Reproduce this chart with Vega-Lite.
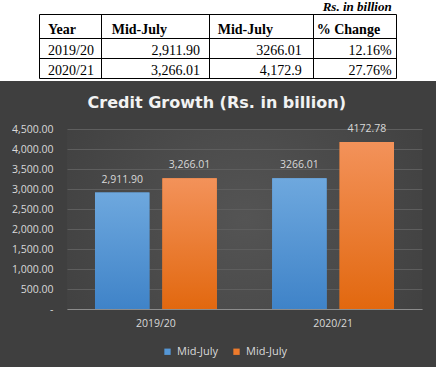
{
  "$schema": "https://vega.github.io/schema/vega-lite/v6.json",
  "background": "#3f3f3f",
  "padding": {"left": 0, "right": 0, "top": 0, "bottom": 10},
  "spacing": 14,
  "config": {"view": {"stroke": null}},
  "datasets": {
    "cells": [
      {"row": 0, "col": 4, "text": "Rs. in billion", "part": "unit"},
      {"row": 1, "col": 1, "text": "Year", "part": "header"},
      {"row": 1, "col": 2, "text": "Mid-July", "part": "header"},
      {"row": 1, "col": 3, "text": "Mid-July", "part": "header"},
      {"row": 1, "col": 4, "text": "% Change", "part": "header"},
      {"row": 2, "col": 1, "text": "2019/20", "part": "year"},
      {"row": 2, "col": 2, "text": "2,911.90", "part": "value"},
      {"row": 2, "col": 3, "text": "3266.01", "part": "value"},
      {"row": 2, "col": 4, "text": "12.16%", "part": "value"},
      {"row": 3, "col": 1, "text": "2020/21", "part": "year"},
      {"row": 3, "col": 2, "text": "3,266.01", "part": "value"},
      {"row": 3, "col": 3, "text": "4,172.9", "part": "value"},
      {"row": 3, "col": 4, "text": "27.76%", "part": "value"}
    ],
    "hlines": [{"line": 0}, {"line": 1}, {"line": 2}, {"line": 3}],
    "vlines": [{"edge": 0}, {"edge": 1}, {"edge": 2}, {"edge": 3}, {"edge": 4}],
    "bars": [
      {"year": "2019/20", "series": "Mid-July (start)", "value": 2911.90, "label": "2,911.90"},
      {"year": "2019/20", "series": "Mid-July (end)", "value": 3266.01, "label": "3,266.01"},
      {"year": "2020/21", "series": "Mid-July (start)", "value": 3266.01, "label": "3266.01"},
      {"year": "2020/21", "series": "Mid-July (end)", "value": 4172.78, "label": "4172.78"}
    ]
  },
  "vconcat": [
    {
      "width": 369,
      "height": 81,
      "resolve": {"scale": {"x": "independent"}},
      "layer": [
        {
          "data": {"values": [{}]},
          "mark": {"type": "rect", "color": "white"},
          "encoding": {
            "x": {"datum": -1, "type": "quantitative", "axis": null,
                  "scale": {"domain": [-1, 0, 1, 2, 3, 4, 5], "range": [-67, -27.5, 34.5, 142.5, 246.5, 329.5, 369], "nice": false, "zero": false}},
            "x2": {"datum": 5}
          }
        },
        {
          "data": {"name": "hlines"},
          "mark": {"type": "rule", "color": "black", "strokeWidth": 1},
          "encoding": {
            "x": {"datum": 0, "type": "quantitative", "axis": null,
                  "scale": {"domain": [-1, 0, 1, 2, 3, 4, 5], "range": [-67, -27.5, 34.5, 142.5, 246.5, 329.5, 369], "nice": false, "zero": false}},
            "x2": {"datum": 4},
            "y": {"field": "line", "type": "quantitative", "axis": null,
                  "scale": {"domain": [0, 1, 2, 3], "range": [14.5, 38.5, 58.5, 78.5], "nice": false, "zero": false}}
          }
        },
        {
          "data": {"name": "vlines"},
          "mark": {"type": "rule", "color": "black", "strokeWidth": 1},
          "encoding": {
            "x": {"field": "edge", "type": "quantitative", "axis": null,
                  "scale": {"domain": [-1, 0, 1, 2, 3, 4, 5], "range": [-67, -27.5, 34.5, 142.5, 246.5, 329.5, 369], "nice": false, "zero": false}},
            "y": {"datum": 0, "type": "quantitative", "axis": null,
                  "scale": {"domain": [0, 1, 2, 3], "range": [14.5, 38.5, 58.5, 78.5], "nice": false, "zero": false}},
            "y2": {"datum": 3}
          }
        },
        {
          "data": {"name": "cells"},
          "transform": [{"filter": "datum.part == 'header'"}],
          "mark": {"type": "text", "align": "left", "baseline": "alphabetic", "dy": -5, "font": "Liberation Serif", "fontSize": 14, "fontWeight": "bold", "color": "black"},
          "encoding": {
            "x": {"field": "col", "type": "quantitative", "axis": null,
                  "scale": {"domain": [1, 2, 3, 4], "range": [-19, 44.7, 150.7, 249.7], "nice": false, "zero": false}},
            "y": {"field": "row", "type": "quantitative", "axis": null,
                  "scale": {"domain": [0, 1, 2, 3], "range": [14.5, 38.5, 58.5, 78.5], "nice": false, "zero": false}},
            "text": {"field": "text"}
          }
        },
        {
          "data": {"name": "cells"},
          "transform": [{"filter": "datum.part == 'year'"}],
          "mark": {"type": "text", "align": "left", "baseline": "alphabetic", "dy": -4, "font": "Liberation Serif", "fontSize": 14, "color": "black"},
          "encoding": {
            "x": {"field": "col", "type": "quantitative", "axis": null,
                  "scale": {"domain": [1, 2, 3, 4], "range": [-19, 44.7, 150.7, 249.7], "nice": false, "zero": false}},
            "y": {"field": "row", "type": "quantitative", "axis": null,
                  "scale": {"domain": [0, 1, 2, 3], "range": [14.5, 38.5, 58.5, 78.5], "nice": false, "zero": false}},
            "text": {"field": "text"}
          }
        },
        {
          "data": {"name": "cells"},
          "transform": [{"filter": "datum.part == 'value'"}],
          "mark": {"type": "text", "align": "right", "baseline": "alphabetic", "dy": -4, "font": "Liberation Serif", "fontSize": 14, "color": "black"},
          "encoding": {
            "x": {"field": "col", "type": "quantitative", "axis": null,
                  "scale": {"domain": [1, 2, 3, 4], "range": [29, 133, 234.7, 324.7], "nice": false, "zero": false}},
            "y": {"field": "row", "type": "quantitative", "axis": null,
                  "scale": {"domain": [0, 1, 2, 3], "range": [14.5, 38.5, 58.5, 78.5], "nice": false, "zero": false}},
            "text": {"field": "text"}
          }
        },
        {
          "data": {"name": "cells"},
          "transform": [{"filter": "datum.part == 'unit'"}],
          "mark": {"type": "text", "align": "right", "baseline": "alphabetic", "dy": -4, "font": "Liberation Serif", "fontSize": 13, "fontWeight": "bold", "fontStyle": "italic", "color": "black"},
          "encoding": {
            "x": {"field": "col", "type": "quantitative", "axis": null,
                  "scale": {"domain": [1, 2, 3, 4], "range": [29, 133, 234.7, 324.7], "nice": false, "zero": false}},
            "y": {"field": "row", "type": "quantitative", "axis": null,
                  "scale": {"domain": [0, 1, 2, 3], "range": [14.5, 38.5, 58.5, 78.5], "nice": false, "zero": false}},
            "text": {"field": "text"}
          }
        }
      ]
    },
    {
      "width": 355,
      "height": 180,
      "view": {
        "stroke": null,
        "fill": {"gradient": "radial", "x1": 0.5, "y1": 0.5, "r1": 0, "x2": 0.5, "y2": 0.5, "r2": 0.6,
                 "stops": [{"offset": 0, "color": "#545454"}, {"offset": 1, "color": "#404040"}]}
      },
      "title": {"text": "Credit Growth (Rs. in billion)", "font": "DejaVu Sans", "fontSize": 16, "fontWeight": "bold", "color": "#f2f2f2", "anchor": "middle", "frame": "bounds", "offset": 13},
      "data": {"name": "bars"},
      "encoding": {
        "x": {"field": "year", "type": "nominal",
              "scale": {"paddingInner": 0.3127, "paddingOuter": 0.158},
              "axis": {"title": null, "labelAngle": 0, "ticks": false, "labelPadding": 9, "labelColor": "#d9d9d9", "labelFontSize": 10.5, "labelFont": "Open Sans", "domainColor": "#8c8c8c", "grid": false}},
        "xOffset": {"field": "series", "type": "nominal",
                    "scale": {"domain": ["Mid-July (start)", "Mid-July (end)"], "paddingInner": 0.193, "paddingOuter": 0}},
        "y": {"field": "value", "type": "quantitative",
              "scale": {"domain": [0, 4500], "nice": false},
              "axis": {"title": null, "values": [0, 500, 1000, 1500, 2000, 2500, 3000, 3500, 4000, 4500],
                       "labelExpr": "datum.value == 0 ? '-' : format(datum.value, ',.2f')",
                       "domain": false, "ticks": false, "labelPadding": 14, "labelColor": "#d9d9d9", "labelFontSize": 10.5, "labelFont": "Open Sans",
                       "gridColor": "#5e5e5e", "gridWidth": 1}}
      },
      "layer": [
        {
          "mark": {"type": "bar"},
          "encoding": {
            "color": {"field": "series", "type": "nominal",
                      "scale": {"domain": ["Mid-July (start)", "Mid-July (end)"], "range": ["#5597d6", "#ee7b2c"]},
                      "legend": {"title": null, "orient": "none", "legendX": 95, "legendY": 346, "direction": "horizontal",
                                 "symbolType": "square", "symbolSize": 40, "symbolStrokeWidth": 0,
                                 "labelColor": "#d9d9d9", "labelFontSize": 11, "labelFont": "Open Sans",
                                 "labelExpr": "'Mid-July'", "columnPadding": 13, "labelOffset": 4}}
          }
        },
        {
          "transform": [{"filter": "datum.series == 'Mid-July (start)'"}],
          "mark": {"type": "bar", "color": {"gradient": "linear", "x1": 0, "y1": 0, "x2": 0, "y2": 1,
                   "stops": [{"offset": 0, "color": "#6ea8de"}, {"offset": 1, "color": "#3f83c8"}]}}
        },
        {
          "transform": [{"filter": "datum.series == 'Mid-July (end)'"}],
          "mark": {"type": "bar", "color": {"gradient": "linear", "x1": 0, "y1": 0, "x2": 0, "y2": 1,
                   "stops": [{"offset": 0, "color": "#f3925a"}, {"offset": 1, "color": "#e2680f"}]}}
        },
        {
          "mark": {"type": "text", "baseline": "middle", "dy": -13, "color": "#d9d9d9", "fontSize": 10.5, "font": "Open Sans"},
          "encoding": {"text": {"field": "label"}}
        }
      ]
    }
  ]
}
